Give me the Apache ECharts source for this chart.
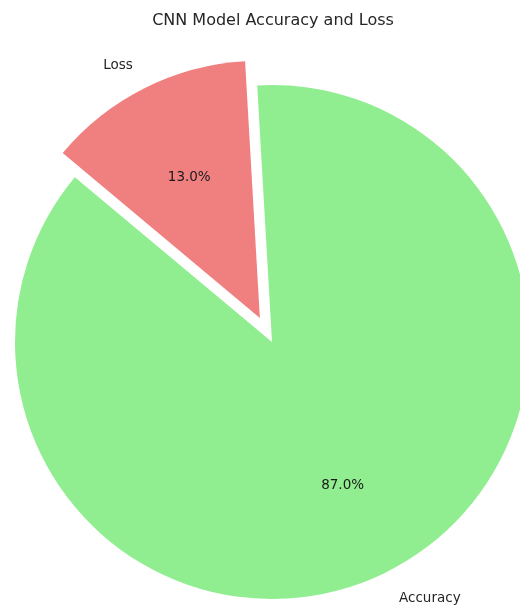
<!DOCTYPE html>
<html>
<head>
<meta charset="utf-8">
<script src="https://cdn.jsdelivr.net/npm/echarts@6/dist/echarts.min.js"></script>
<style>
html,body{margin:0;padding:0;background:#fff;}
#chart{width:520px;height:606px;}
</style>
</head>
<body>
<div id="chart"></div>
<script>
var categories = ['Accuracy', 'Loss'];
var values = [87, 13];
var colors = ['#90EE90', '#F08080'];
var exploded = [false, true];

var R = 257;
var center = [272, 342];
var startAngle = 93.3;
var font = 'DejaVu Sans';

function buildData(transparent, outer) {
  return categories.map(function (c, i) {
    return {
      name: c,
      value: values[i],
      selected: exploded[i],
      itemStyle: { color: transparent ? 'rgba(0,0,0,0)' : colors[i] },
      label: { offset: [0, outer ? (i === 0 ? 4 : 1) : 3] }
    };
  });
}

var chart = echarts.init(document.getElementById('chart'), null, { renderer: 'canvas' });
chart.setOption({
  animation: false,
  backgroundColor: '#ffffff',
  title: {
    text: 'CNN Model Accuracy and Loss',
    left: 273,
    textAlign: 'center',
    top: 13,
    padding: 0,
    textStyle: { fontFamily: font, fontSize: 16, fontWeight: 'normal', color: '#262626' }
  },
  series: [
    {
      type: 'pie',
      silent: true,
      center: center,
      radius: [0, R],
      startAngle: startAngle,
      clockwise: true,
      selectedMode: 'single',
      selectedOffset: 27,
      avoidLabelOverlap: false,
      emphasis: { disabled: true },
      label: {
        show: true,
        position: 'outside',
        formatter: '{b}',
        fontFamily: font,
        fontSize: 13.5,
        color: '#262626',
        distanceToLabelLine: 0
      },
      labelLine: { show: false, length: R * 0.1, length2: 0 },
      data: buildData(false, true)
    },
    {
      type: 'pie',
      silent: true,
      center: center,
      radius: [R * 0.2, R],
      startAngle: startAngle,
      clockwise: true,
      selectedMode: 'single',
      selectedOffset: 27,
      avoidLabelOverlap: false,
      emphasis: { disabled: true },
      label: {
        show: true,
        position: 'inside',
        formatter: function (p) { return p.percent.toFixed(1) + '%'; },
        fontFamily: font,
        fontSize: 13.5,
        color: '#1a1a1a'
      },
      labelLine: { show: false },
      data: buildData(true, false)
    }
  ]
});
</script>
</body>
</html>
